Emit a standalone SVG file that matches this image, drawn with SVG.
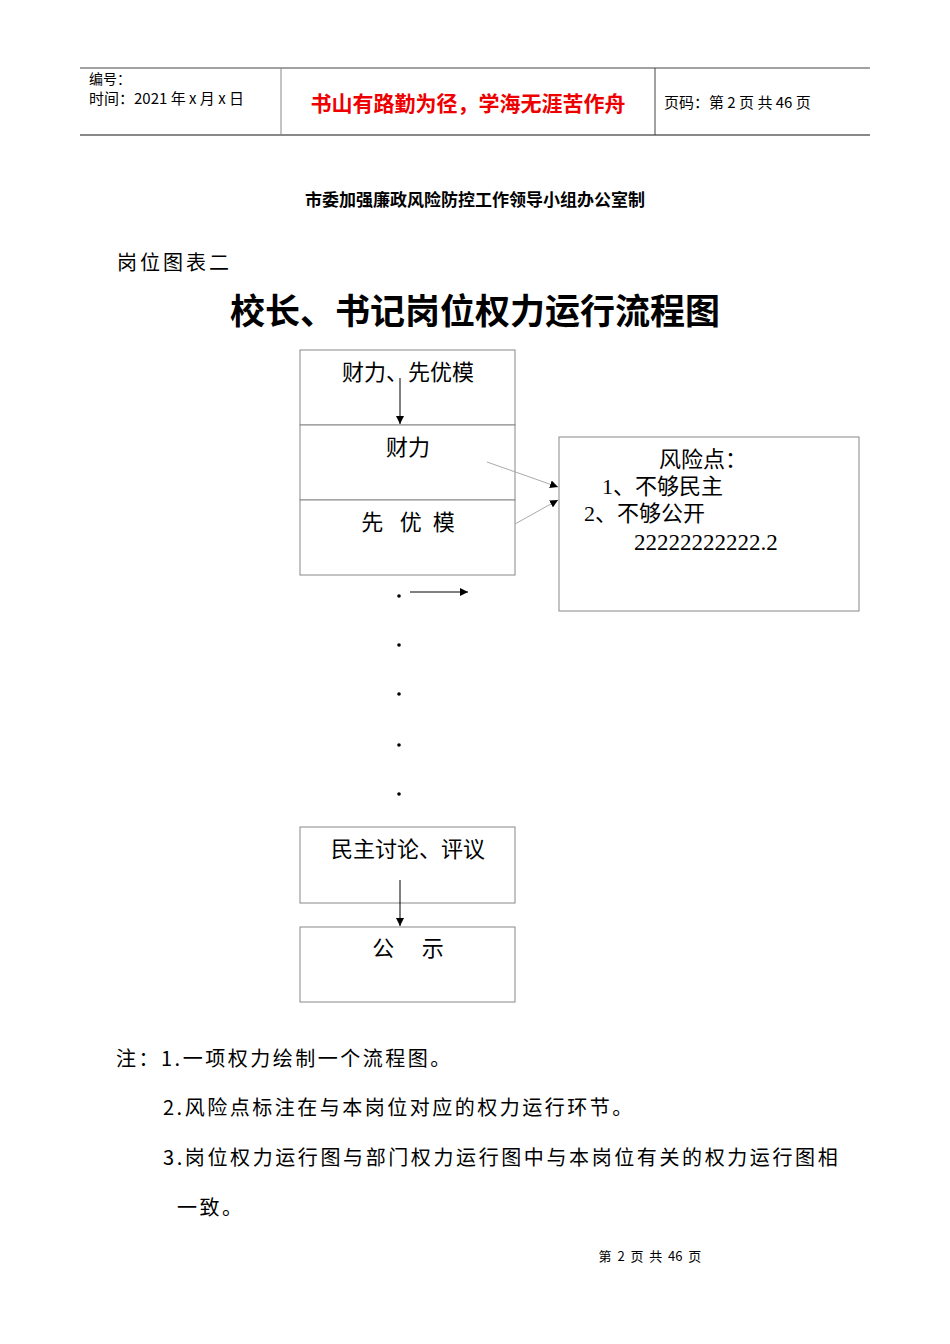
<svg xmlns="http://www.w3.org/2000/svg" width="950" height="1344" viewBox="0 0 950 1344">
<style>
.s{font-family:"Noto Sans CJK SC","Noto Sans",sans-serif;fill:#000}
.r{font-family:"Liberation Serif","Noto Sans CJK SC",serif;fill:#000}
.box{fill:#fff;stroke:#888;stroke-width:1}
.ln{stroke:#000;stroke-width:1;fill:none}
.thin{stroke:#aaa;stroke-width:1;fill:none}
</style>
<defs>
<marker id="a" viewBox="0 0 10 10" refX="10" refY="5" markerWidth="8" markerHeight="8" markerUnits="userSpaceOnUse" orient="auto"><path d="M0,0L10,5L0,10z" fill="#000"/></marker>
</defs>
<rect width="950" height="1344" fill="#fff"/>
<g id="header">
<line x1="80" y1="68" x2="870" y2="68" stroke="#444" stroke-width="1"/>
<line x1="80" y1="135" x2="870" y2="135" stroke="#888" stroke-width="2"/>
<line x1="281" y1="68" x2="281" y2="135" stroke="#888"/>
<line x1="655" y1="68" x2="655" y2="135" stroke="#444"/>
<text class="s" x="89" y="84" font-size="14">编号：</text>
<text class="s" x="89" y="104" font-size="15">时间：2021 年 x 月 x 日</text>
<text class="s" x="468" y="111" font-size="21" style="fill:#e00" text-anchor="middle" font-weight="bold">书山有路勤为径，学海无涯苦作舟</text>
<text class="s" x="664" y="108" font-size="15">页码：第 2 页  共 46 页</text>
</g>
<text class="s" x="475" y="206" font-size="17" font-weight="bold" text-anchor="middle">市委加强廉政风险防控工作领导小组办公室制</text>
<text class="s" x="117" y="270" font-size="20" letter-spacing="3">岗位图表二</text>
<text class="r" x="475" y="324" font-size="35" font-weight="bold" text-anchor="middle">校长、书记岗位权力运行流程图</text>
<g id="n1"><rect class="box" x="300" y="350" width="215" height="75"/><text class="r" x="408" y="380" font-size="22" text-anchor="middle">财力、先优模</text></g>
<g id="n2"><rect class="box" x="300" y="425" width="215" height="75"/><text class="r" x="408" y="455" font-size="22" text-anchor="middle">财力</text></g>
<g id="n3"><rect class="box" x="300" y="500" width="215" height="75"/><text class="r" x="408" y="530" font-size="22" text-anchor="middle" xml:space="preserve">先   优  模</text></g>
<g id="risk"><rect class="box" x="559" y="437" width="300" height="174"/>
<text class="r" x="703" y="467" font-size="22" text-anchor="middle">风险点：</text>
<text class="r" x="602" y="494" font-size="22">1、不够民主</text>
<text class="r" x="584" y="521" font-size="22">2、不够公开</text>
<text class="r" x="634" y="550" font-size="23">22222222222.2</text></g>
<g id="n4"><rect class="box" x="300" y="827" width="215" height="76"/><text class="r" x="408" y="857" font-size="22" text-anchor="middle">民主讨论、评议</text></g>
<g id="n5"><rect class="box" x="300" y="927" width="215" height="75"/><text class="r" x="408" y="956" font-size="22" text-anchor="middle" xml:space="preserve">公     示</text></g>
<g id="connectors">
<line class="ln" x1="400" y1="378" x2="400" y2="424" marker-end="url(#a)"/>
<line class="thin" x1="487" y1="462" x2="558" y2="487" marker-end="url(#a)"/>
<line class="thin" x1="515" y1="524" x2="558" y2="500" marker-end="url(#a)"/>
<line class="ln" x1="410" y1="592" x2="468" y2="592" stroke-width="2" marker-end="url(#a)"/>
<line class="ln" x1="400" y1="880" x2="400" y2="926" marker-end="url(#a)"/>
<circle cx="399" cy="596" r="1.8"/><circle cx="399" cy="645" r="1.8"/><circle cx="399" cy="694" r="1.8"/><circle cx="399" cy="745" r="1.8"/><circle cx="399" cy="794" r="1.8"/>
</g>
<g id="notes">
<text class="s" x="116" y="1066" font-size="20" letter-spacing="2.5">注：1.一项权力绘制一个流程图。</text>
<text class="s" x="163" y="1115" font-size="20" letter-spacing="2.5">2.风险点标注在与本岗位对应的权力运行环节。</text>
<text class="s" x="163" y="1165" font-size="20" letter-spacing="2.6">3.岗位权力运行图与部门权力运行图中与本岗位有关的权力运行图相</text>
<text class="s" x="177" y="1215" font-size="20" letter-spacing="2.5">一致。</text>
</g>
<text class="s" x="650" y="1261" font-size="13" text-anchor="middle" xml:space="preserve">第  2  页  共  46  页</text>
</svg>
